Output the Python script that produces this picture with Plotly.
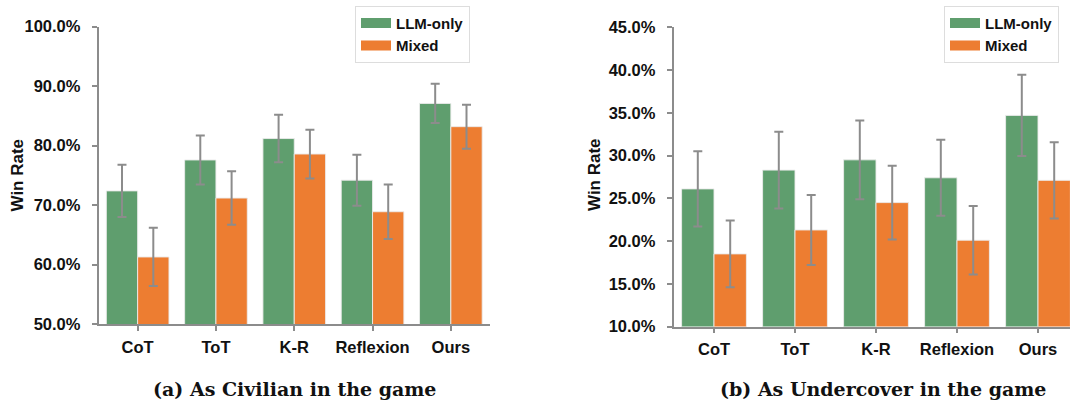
import plotly.graph_objects as go

categories = ["CoT", "ToT", "K-R", "Reflexion", "Ours"]
series_names = ["LLM-only", "Mixed"]

civ_llm = [72.4, 77.6, 81.2, 74.2, 87.1]
civ_llm_err = [4.4, 4.1, 4.0, 4.3, 3.3]
civ_mixed = [61.3, 71.2, 78.6, 68.9, 83.2]
civ_mixed_err = [4.9, 4.5, 4.1, 4.6, 3.7]

und_llm = [26.1, 28.3, 29.5, 27.4, 34.7]
und_llm_err = [4.4, 4.5, 4.6, 4.45, 4.75]
und_mixed = [18.5, 21.3, 24.5, 20.1, 27.1]
und_mixed_err = [3.9, 4.1, 4.3, 4.0, 4.45]

civ_ticks = [50, 60, 70, 80, 90, 100]
civ_tick_labels = ["50.0%", "60.0%", "70.0%", "80.0%", "90.0%", "100.0%"]
und_ticks = [10, 15, 20, 25, 30, 35, 40, 45]
und_tick_labels = ["10.0%", "15.0%", "20.0%", "25.0%", "30.0%", "35.0%", "40.0%", "45.0%"]

captions = ["(a) As Civilian in the game", "(b) As Undercover in the game"]
y_title = "Win Rate"

GREEN = "#5F9E6E"
ORANGE = "#ED7D31"
GREY = "#8C8C8C"
W, H = 1070, 402
SANS = "Liberation Sans, Arial, sans-serif"

fig = go.Figure()

def add_bars(xa, ya, vals, errs, color, name):
    fig.add_trace(go.Bar(
        x=categories, y=vals, name=name, xaxis=xa, yaxis=ya,
        marker=dict(color=color, line=dict(color="rgba(235,235,235,0.9)", width=1)),
        error_y=dict(type="data", array=errs, visible=True, color=GREY,
                     thickness=2, width=4.5),
        showlegend=False,
    ))

add_bars("x", "y", civ_llm, civ_llm_err, GREEN, series_names[0])
add_bars("x", "y", civ_mixed, civ_mixed_err, ORANGE, series_names[1])
add_bars("x2", "y2", und_llm, und_llm_err, GREEN, series_names[0])
add_bars("x2", "y2", und_mixed, und_mixed_err, ORANGE, series_names[1])

# legend entries (wide colour keys)
for leg, xa, ya in [("legend", "x", "y"), ("legend2", "x2", "y2")]:
    for name, color in zip(series_names, [GREEN, ORANGE]):
        fig.add_trace(go.Scatter(
            x=[None], y=[None], mode="lines", name=name, xaxis=xa, yaxis=ya,
            line=dict(color=color, width=12), legend=leg, showlegend=True,
            hoverinfo="skip",
        ))

def px_x(p):
    return p / W

def px_y(p):
    return 1 - p / H

axis_common = dict(
    showline=True, linecolor=GREY, linewidth=1.5, showgrid=False, zeroline=False,
    ticks="outside", ticklen=5, tickcolor=GREY, tickwidth=1.5,
    tickfont=dict(family=SANS, size=16.5, color="#111111", weight="bold"),
    automargin=False,
)

fig.update_layout(
    width=W, height=H,
    margin=dict(l=0, r=0, t=0, b=0, autoexpand=False),
    paper_bgcolor="white", plot_bgcolor="white",
    barmode="group", bargap=0.2, bargroupgap=0,
    xaxis=dict(**axis_common, domain=[px_x(98.5), px_x(490)], anchor="y",
               type="category", range=[-0.5, 4.5], ticklabelstandoff=2),
    yaxis=dict(**axis_common, domain=[px_y(324.2), px_y(26.7)], anchor="x",
               range=[50, 100], tickvals=civ_ticks, ticktext=civ_tick_labels,
               ticklabelstandoff=8),
    xaxis2=dict(**axis_common, domain=[px_x(673.5), 1.0], anchor="y2",
                type="category", range=[-0.5, -0.5 + (W - 673.5) / 81.0],
                ticklabelstandoff=2),
    yaxis2=dict(**axis_common, domain=[px_y(326.6), px_y(27.3)], anchor="x2",
                range=[10, 45], tickvals=und_ticks, ticktext=und_tick_labels,
                ticklabelstandoff=8),
    legend=dict(x=px_x(355), y=px_y(5.7), xanchor="left", yanchor="top",
                bgcolor="white", bordercolor="#DDDDDD", borderwidth=1,
                font=dict(family=SANS, size=15, color="#111111", weight="bold")),
    legend2=dict(x=px_x(944), y=px_y(5.7), xanchor="left", yanchor="top",
                 bgcolor="white", bordercolor="#DDDDDD", borderwidth=1,
                 font=dict(family=SANS, size=15, color="#111111", weight="bold")),
    annotations=[
        dict(text=y_title, xref="paper", yref="paper", x=px_x(17.5), y=px_y(175),
             textangle=-90, showarrow=False, xanchor="center", yanchor="middle",
             font=dict(family=SANS, size=17, color="#111111", weight="bold")),
        dict(text=y_title, xref="paper", yref="paper", x=px_x(595), y=px_y(175),
             textangle=-90, showarrow=False, xanchor="center", yanchor="middle",
             font=dict(family=SANS, size=17, color="#111111", weight="bold")),
        dict(text=captions[0], xref="paper", yref="paper", x=px_x(294), y=px_y(389),
             showarrow=False, xanchor="center", yanchor="middle",
             font=dict(family="DejaVu Serif, serif", size=19, color="#111111", weight="bold")),
        dict(text=captions[1], xref="paper", yref="paper", x=px_x(883), y=px_y(389),
             showarrow=False, xanchor="center", yanchor="middle",
             font=dict(family="DejaVu Serif, serif", size=19, color="#111111", weight="bold")),
    ],
)

fig.write_html("out.html", config={"displayModeBar": False},
               post_script="document.body.style.margin='0';document.body.style.overflow='hidden';")
